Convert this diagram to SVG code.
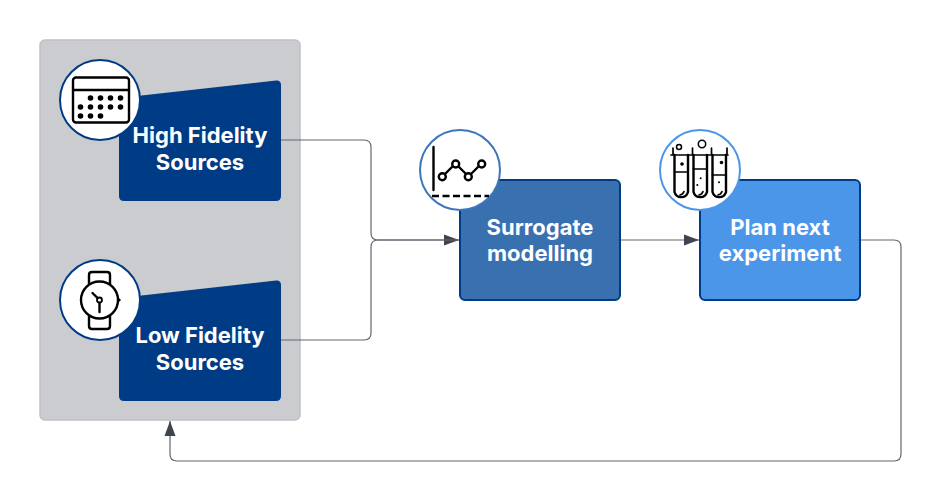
<svg xmlns="http://www.w3.org/2000/svg" width="941" height="501" viewBox="0 0 941 501">
<style>
.lbl{font-family:Inter,"Liberation Sans",sans-serif;font-weight:700;font-size:22px;fill:#fff;text-anchor:middle}
.conn{fill:none;stroke:#62676f;stroke-width:1.2}
.ic{fill:none;stroke:#000;stroke-width:2.4;stroke-linecap:round;stroke-linejoin:round}
.thin{fill:none;stroke:#000;stroke-width:1.7;stroke-linecap:round}
.dot{fill:#000}
.disc{fill:#fff;stroke-width:2}
.src{fill:#003c85}
</style>
<defs>
<marker id="arr" markerUnits="userSpaceOnUse" markerWidth="16" markerHeight="12" refX="15" refY="6" orient="auto"><path d="M0,0.5 L15,6 L0,11.500 Z" fill="#3f4550"/></marker>
</defs>
<rect width="941" height="501" fill="#fff"/>
<g id="sources-panel"><rect x="40" y="40" width="260" height="380" rx="5" fill="#cbccd0" stroke="#bec0c5" stroke-width="1.500"/></g>
<g id="connectors">
<path class="conn" d="M281,140 H364 Q371,140 371,147 V233 Q371,240 378,240 H459" marker-end="url(#arr)"/>
<path class="conn" d="M281,340 H364 Q371,340 371,333 V247 Q371,240 378,240 H459"/>
<path class="conn" d="M621,240 H699" marker-end="url(#arr)"/>
<path class="conn" d="M861,240 H894 Q901,240 901,247 V454 Q901,461 894,461 H177 Q170,461 170,454 V421" marker-end="url(#arr)"/>
</g>
<g id="high-fidelity">
<path class="src" d="M119,98 L276,80.500 Q281,80 281,85 V196 Q281,201 276,201 H124 Q119,201 119,196 Z"/>
<circle class="disc" cx="100" cy="100" r="40" stroke="#003c85"/>
<rect class="ic" x="73" y="77.500" width="56" height="45" rx="3"/>
<path class="ic" d="M73,90H129"/>
<g class="dot">
<circle cx="90.500" cy="98" r="2.800"/><circle cx="100.500" cy="98" r="2.800"/><circle cx="110.500" cy="98" r="2.800"/><circle cx="120.500" cy="98" r="2.800"/>
<circle cx="80.500" cy="107" r="2.800"/><circle cx="90.500" cy="107" r="2.800"/><circle cx="100.500" cy="107" r="2.800"/><circle cx="110.500" cy="107" r="2.800"/><circle cx="120.500" cy="107" r="2.800"/>
<circle cx="80.500" cy="116" r="2.800"/><circle cx="90.500" cy="116" r="2.800"/><circle cx="100.500" cy="116" r="2.800"/>
</g>
<text class="lbl" x="200" y="143">High Fidelity</text>
<text class="lbl" x="200" y="170">Sources</text>
</g>
<g id="low-fidelity">
<path class="src" d="M119,298 L276,280.500 Q281,280 281,285 V396 Q281,401 276,401 H124 Q119,401 119,396 Z"/>
<circle class="disc" cx="100" cy="300" r="40" stroke="#003c85"/>
<circle class="ic" cx="99.500" cy="300" r="18.500"/>
<path class="ic" d="M89,284 V275 Q89,272 92,272 H107 Q110,272 110,275 V284 M89,316 V326 Q89,329 92,329 H107 Q110,329 110,326 V316"/>
<path class="ic" d="M92.500,293 L99,299.500 M99.500,303 V312"/>
<circle cx="99.500" cy="300" r="2.500" fill="#fff" stroke="#000" stroke-width="1.800"/>
<path class="dot" d="M117.500,296.500 L121,300 L117.500,303.500 Z"/>
<text class="lbl" x="200" y="343">Low Fidelity</text>
<text class="lbl" x="200" y="370">Sources</text>
</g>
<g id="surrogate-modelling">
<rect x="460" y="180" width="160" height="120" rx="5" fill="#3870b0" stroke="#003c85" stroke-width="2"/>
<circle class="disc" cx="460" cy="170" r="40" stroke="#3d76ba"/>
<path class="ic" d="M433.500,147 V190"/>
<path d="M432,196 H489" fill="none" stroke="#000" stroke-width="2.400" stroke-dasharray="7 3.500"/>
<path class="ic" d="M445,174 L453,166 M458,166 L466,174 M471,174 L479,166"/>
<g fill="#fff" stroke="#000" stroke-width="2.400"><circle cx="442.300" cy="176.700" r="3.500"/><circle cx="455.700" cy="164" r="3.500"/><circle cx="468.300" cy="176.700" r="3.500"/><circle cx="481.700" cy="164" r="3.500"/></g>
<text class="lbl" x="540" y="235">Surrogate</text>
<text class="lbl" x="540" y="261">modelling</text>
</g>
<g id="plan-next-experiment">
<rect x="700" y="180" width="160" height="120" rx="5" fill="#4c96ea" stroke="#003c85" stroke-width="2"/>
<circle class="disc" cx="700" cy="170" r="40" stroke="#4c96ea"/>
<path class="thin" d="M671,155 H728 M673,148 V155 M692.500,148 V155 M711.500,148 V155 M727,148 V155"/>
<path class="ic" d="M674.500,155 V192 A7,7 0 0 0 688,192 V155 M693.500,155 V192 A7,7 0 0 0 707,192 V155 M712.500,155 V192 A7,7 0 0 0 726,192 V155" stroke-width="2"/>
<path class="thin" d="M674.500,172 H688 M693.500,169 H707 M712.500,175 H726 M680,195 Q683,194.500 684,191.500 M699,195 Q702,194.500 703,191.500 M718,195 Q721,194.500 722,191.500"/>
<circle cx="679" cy="147" r="2.500" fill="#fff" stroke="#000" stroke-width="1.500"/>
<circle cx="702" cy="144" r="3.700" fill="#fff" stroke="#000" stroke-width="1.500"/>
<g class="dot"><circle cx="682" cy="164" r="1.800"/><circle cx="721.500" cy="162.500" r="1.800"/><circle cx="700.700" cy="178.300" r="1"/><circle cx="697.300" cy="185" r="1"/><circle cx="719" cy="182.300" r="1"/></g>
<text class="lbl" x="780" y="235">Plan next</text>
<text class="lbl" x="780" y="261">experiment</text>
</g>
</svg>
